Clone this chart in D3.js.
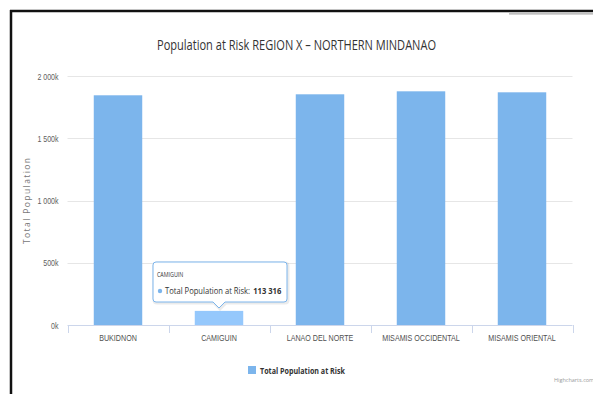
<!DOCTYPE html>
<html>
<head>
<meta charset="utf-8">
<script src="https://cdn.jsdelivr.net/npm/d3@7/dist/d3.min.js"></script>
<style>
  html, body { margin: 0; padding: 0; background: #fff; }
  svg { display: block; font-family: "Open Sans", "DejaVu Sans", sans-serif; }
</style>
</head>
<body>
<svg id="chart" width="593" height="394"></svg>
<script>
// Provinces of Region X and their population at risk
const categories = ["BUKIDNON", "CAMIGUIN", "LANAO DEL NORTE", "MISAMIS OCCIDENTAL", "MISAMIS ORIENTAL"];
const populationAtRisk = [1845000, 113316, 1853000, 1877000, 1869000];
const yTicks = [0, 500000, 1000000, 1500000, 2000000];
const seriesName = "Total Population at Risk";
const highlighted = 1; // category shown in the tooltip

const svg = d3.select("#chart");
const W = 593, H = 394;
const plot = { left: 67.5, right: 572.5, top: 76, bottom: 325 };

// squeeze a text horizontally to a narrower, condensed look
function condense(sel, factor) {
  sel.each(function () {
    const len = this.getComputedTextLength();
    d3.select(this).attr("textLength", len * factor).attr("lengthAdjust", "spacingAndGlyphs");
  });
}

// page frame
svg.append("line").attr("x1", 11).attr("x2", 11).attr("y1", 10).attr("y2", H)
  .attr("stroke", "#111").attr("stroke-width", 2.5);
svg.append("line").attr("x1", 10).attr("x2", W).attr("y1", 11).attr("y2", 11)
  .attr("stroke", "#111").attr("stroke-width", 2.5);
svg.append("line").attr("x1", 509).attr("x2", W).attr("y1", 13.8).attr("y2", 13.8)
  .attr("stroke", "#aaa").attr("stroke-width", 1.2);

const x = d3.scaleBand().domain(categories).range([plot.left, plot.right])
  .paddingInner(0.52).paddingOuter(0.26);
const y = d3.scaleLinear().domain([0, 2000000]).range([plot.bottom, plot.top]);

// title
svg.append("text").attr("x", 296.5).attr("y", 50).attr("text-anchor", "middle")
  .attr("font-size", 14).attr("fill", "#333")
  .attr("textLength", 279).attr("lengthAdjust", "spacingAndGlyphs")
  .text("Population at Risk REGION X – NORTHERN MINDANAO");

// grid lines
svg.append("g").selectAll("line").data(yTicks.filter(d => d > 0)).join("line")
  .attr("x1", plot.left).attr("x2", plot.right)
  .attr("y1", d => Math.round(y(d)) + 0.5).attr("y2", d => Math.round(y(d)) + 0.5)
  .attr("stroke", "#e6e6e6").attr("stroke-width", 1);

// y axis labels
const fmt = d => (d === 0 ? "0" : d3.format(",")(d / 1000).replace(/,/g, " ")) + "k";
const yAxis = d3.axisLeft(y).tickValues(yTicks).tickSize(0).tickPadding(0).tickFormat(fmt);
const gy = svg.append("g").attr("transform", `translate(${plot.left - 9},0)`).call(yAxis);
gy.select(".domain").remove();
gy.selectAll("text").attr("font-size", 9).attr("fill", "#606060").attr("dy", "0.35em")
  .call(condense, 0.78);

// y axis title
svg.append("text").attr("transform", "translate(30,201) rotate(-90)")
  .attr("text-anchor", "middle").attr("font-size", 8.5).attr("fill", "#777")
  .attr("textLength", 86).attr("lengthAdjust", "spacing")
  .text("Total Population");

// bars
svg.append("g").selectAll("rect").data(categories).join("rect")
  .attr("x", d => x(d)).attr("width", x.bandwidth())
  .attr("y", (d, i) => y(populationAtRisk[i]))
  .attr("height", (d, i) => plot.bottom - y(populationAtRisk[i]))
  .attr("fill", (d, i) => i === highlighted ? "#95c8fc" : "#7cb5ec");

// x axis
const xAxis = d3.axisBottom(x).tickSize(0).tickPadding(0);
const gx = svg.append("g").attr("transform", `translate(0,${plot.bottom})`).call(xAxis);
gx.select(".domain").attr("stroke", "#ccd6eb").attr("d", `M${plot.left},0.5H${plot.right}`);
gx.selectAll("text").attr("font-size", 8.5).attr("fill", "#505050").attr("dy", 0)
  .attr("y", 16).call(condense, 0.84);
// category boundary ticks
const bounds = categories.map(c => x(c) - x.step() * x.paddingInner() / 2).concat([plot.right]);
bounds[0] = plot.left;
svg.append("g").selectAll("line").data(bounds).join("line")
  .attr("x1", d => Math.round(d) + 0.5).attr("x2", d => Math.round(d) + 0.5)
  .attr("y1", plot.bottom).attr("y2", plot.bottom + 8)
  .attr("stroke", "#ccd6eb");

// legend
svg.append("rect").attr("x", 248).attr("y", 366).attr("width", 8).attr("height", 8)
  .attr("fill", "#7cb5ec");
svg.append("text").attr("x", 260).attr("y", 373.5).attr("font-size", 9)
  .attr("font-weight", "bold").attr("fill", "#333")
  .attr("textLength", 85).attr("lengthAdjust", "spacingAndGlyphs")
  .text(seriesName);

// credits
svg.append("text").attr("x", 554).attr("y", 382).attr("font-size", 5.5).attr("fill", "#999")
  .text("Highcharts.com");

// tooltip for the highlighted category
const cx = x(categories[highlighted]) + x.bandwidth() / 2;
const tipTop = 262, tipBottom = 302, tipLeft = 153, tipRight = 287;
const tipPath = `M${tipLeft + 3},${tipTop} H${tipRight - 3} Q${tipRight},${tipTop} ${tipRight},${tipTop + 3}
  V${tipBottom - 3} Q${tipRight},${tipBottom} ${tipRight - 3},${tipBottom}
  H${cx + 6} L${cx},${tipBottom + 6} L${cx - 6},${tipBottom}
  H${tipLeft + 3} Q${tipLeft},${tipBottom} ${tipLeft},${tipBottom - 3}
  V${tipTop + 3} Q${tipLeft},${tipTop} ${tipLeft + 3},${tipTop} Z`;
const tip = svg.append("g");
tip.append("path").attr("d", tipPath).attr("transform", "translate(1,1)")
  .attr("fill", "none").attr("stroke", "rgba(0,0,0,0.08)").attr("stroke-width", 3);
tip.append("path").attr("d", tipPath).attr("fill", "rgba(255,255,255,0.96)")
  .attr("stroke", "#7cb5ec").attr("stroke-width", 1);
tip.append("text").attr("x", 157).attr("y", 277).attr("font-size", 6.5).attr("fill", "#333")
  .text(categories[highlighted]).call(condense, 0.82);
tip.append("circle").attr("cx", 160).attr("cy", 291).attr("r", 2.2).attr("fill", "#7cb5ec");
// series line of the tooltip, drawn in a horizontally squeezed group
const line = tip.append("g").attr("transform", "translate(165,294) scale(0.8,1)");
const lbl = line.append("text").attr("x", 0).attr("y", 0).attr("font-size", 9.5).attr("fill", "#333")
  .text(seriesName + ":");
const lblW = lbl.node().getComputedTextLength();
line.append("text").attr("x", lblW + 4).attr("y", 0)
  .attr("font-size", 9.5).attr("font-weight", "bold").attr("fill", "#333")
  .text(d3.format(",")(populationAtRisk[highlighted]).replace(/,/g, " "));
</script>
</body>
</html>
